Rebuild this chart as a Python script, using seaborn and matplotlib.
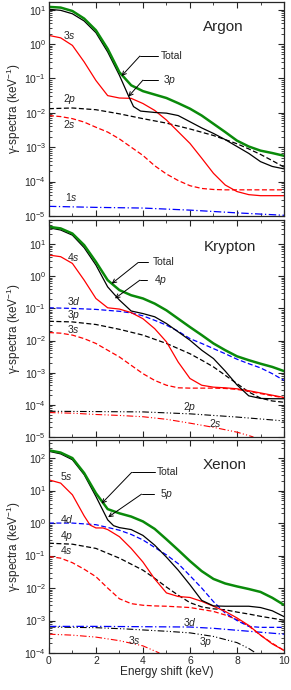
import numpy as np
import pandas as pd
import seaborn as sns
import matplotlib.pyplot as plt
from matplotlib import ticker

sns.set_style('ticks')
plt.rcParams['font.family'] = ['Liberation Sans', 'DejaVu Sans']
plt.rcParams['mathtext.fontset'] = 'custom'
plt.rcParams['mathtext.rm'] = 'Liberation Sans'
plt.rcParams['mathtext.it'] = 'Liberation Sans:italic'

# values, stored as log10 of gamma-spectra (keV^-1)
x_half = [0, 0.5, 1, 1.5, 2, 2.5, 3, 3.5, 4, 4.5, 5, 5.5, 6, 6.5, 7, 7.5, 8, 8.5, 9, 9.5, 10]

# ---- Argon
ar_total = [1.08, 1.06, 0.96, 0.74, 0.40, -0.14, -0.82, -1.20, -1.37, -1.47, -1.57,
            -1.72, -1.88, -2.08, -2.32, -2.56, -2.81, -2.98, -3.10, -3.17, -3.25]
ar_3p_x = [0, 0.5, 1, 1.5, 2, 2.5, 3, 3.4, 3.6, 3.9, 4.5, 5, 5.5, 6, 6.5, 7, 7.5, 8, 8.5, 9, 9.5, 10]
ar_3p = [1.01, 0.98, 0.88, 0.67, 0.33, -0.23, -0.91, -1.53, -1.82, -1.95, -1.99, -2.01,
         -2.08, -2.26, -2.44, -2.60, -2.78, -2.98, -3.18, -3.42, -3.56, -3.63]
ar_3s = [0.25, 0.18, -0.04, -0.52, -1.06, -1.50, -1.57, -1.58, -1.73, -1.93, -2.21,
         -2.55, -2.89, -3.32, -3.76, -4.10, -4.29, -4.38, -4.41, -4.41, -4.41]
ar_2p_x = [0, 1, 2, 3, 4, 5, 6, 7, 8, 8.5, 9, 9.5, 10]
ar_2p = [-1.88, -1.86, -1.91, -2.03, -2.17, -2.30, -2.47, -2.66, -2.90, -3.05, -3.21, -3.39, -3.58]
ar_2s = [-2.08, -2.11, -2.17, -2.27, -2.42, -2.56, -2.76, -3.00, -3.24, -3.54, -3.78,
         -3.97, -4.12, -4.20, -4.23, -4.24, -4.24, -4.24, -4.24, -4.24, -4.24]
ar_1s_x = [0, 2, 4, 6, 8, 10]
ar_1s = [-4.72, -4.75, -4.77, -4.83, -4.91, -4.98]

# ---- Krypton
kr_total = [1.54, 1.49, 1.33, 0.97, 0.45, -0.12, -0.43, -0.59, -0.69, -0.85, -1.06,
            -1.32, -1.58, -1.83, -2.09, -2.30, -2.49, -2.61, -2.72, -2.82, -2.95]
kr_4p = [1.51, 1.44, 1.28, 0.89, 0.35, -0.33, -0.74, -1.08, -1.16, -1.26, -1.47,
         -1.73, -1.99, -2.30, -2.56, -2.95, -3.38, -3.72, -3.80, -3.81, -3.81]
kr_4s = [0.66, 0.61, 0.40, -0.12, -0.69, -0.98, -1.02, -1.13, -1.32, -1.63, -2.04,
         -2.67, -3.18, -3.39, -3.45, -3.47, -3.50, -3.56, -3.63, -3.70, -3.77]
kr_3d_x = [0, 1, 2, 2.5, 3, 3.5, 4, 4.5, 5, 5.5, 6, 6.5, 7, 7.5, 8, 8.5, 9, 9.5, 10]
kr_3d = [-0.98, -1.00, -1.03, -1.06, -1.09, -1.14, -1.23, -1.37, -1.52, -1.71, -1.94,
         -2.09, -2.25, -2.41, -2.58, -2.72, -2.85, -3.03, -3.24]
kr_3p_x = [0, 1, 2, 3, 4, 5, 6, 6.5, 7, 7.5, 8, 8.5, 9, 9.5, 10]
kr_3p = [-1.40, -1.42, -1.50, -1.65, -1.83, -2.09, -2.41, -2.61, -2.82, -3.08, -3.34,
         -3.60, -3.79, -3.88, -3.92]
kr_3s = [-1.75, -1.77, -1.83, -1.94, -2.09, -2.30, -2.51, -2.77, -3.03, -3.24, -3.39,
         -3.47, -3.48, -3.48, -3.48, -3.49, -3.52, -3.58, -3.65, -3.72, -3.78]
kr_2p_x = [0, 2, 4, 6, 8, 10]
kr_2p = [-4.20, -4.21, -4.22, -4.28, -4.38, -4.50]
kr_2s_x = [0, 1, 2, 3, 4, 5, 6, 7, 8, 8.7]
kr_2s = [-4.24, -4.26, -4.30, -4.33, -4.37, -4.45, -4.57, -4.70, -4.85, -5.0]

# ---- Xenon
xe_total = [2.24, 2.17, 2.00, 1.54, 0.92, 0.43, 0.30, 0.20, 0.05, -0.18, -0.50,
            -0.83, -1.17, -1.48, -1.72, -1.86, -1.95, -2.03, -2.12, -2.30, -2.52]
xe_5p_x = [0, 0.5, 1, 1.5, 2, 2.5, 2.75, 3, 3.5, 4, 4.5, 5, 5.5, 6, 6.5, 7, 7.5, 8, 8.5, 9, 9.5, 10]
xe_5p = [2.21, 2.13, 1.95, 1.49, 0.82, 0.10, -0.08, -0.14, -0.20, -0.38, -0.68, -1.05,
         -1.45, -1.90, -2.38, -2.55, -2.56, -2.56, -2.56, -2.60, -2.70, -2.88]
xe_5s_x = [0, 0.5, 1, 1.5, 1.75, 2, 2.3, 2.5, 3, 3.5, 4, 4.5, 5, 5.5, 6, 6.5, 7, 7.5, 8, 8.5, 9, 9.5, 10]
xe_5s = [1.33, 1.23, 0.87, 0.22, -0.06, -0.15, -0.15, -0.20, -0.42, -0.78, -1.20, -1.72,
         -2.15, -2.26, -2.29, -2.41, -2.56, -2.72, -2.92, -3.15, -3.45, -3.72, -3.92]
xe_4d_x = [0, 1, 2, 3, 3.5, 4, 4.5, 5, 5.5, 6, 6.5, 7, 7.5, 8, 8.5, 9, 10]
xe_4d = [0.0, 0.0, -0.05, -0.22, -0.35, -0.52, -0.75, -0.98, -1.25, -1.62, -2.0,
         -2.42, -2.77, -3.00, -3.18, -3.21, -3.21]
xe_4p_x = [0, 1, 2, 3, 4, 4.5, 5, 5.5, 6, 6.5, 7, 7.5, 8, 8.5, 9, 9.5, 10]
xe_4p = [-0.62, -0.65, -0.78, -1.08, -1.45, -1.70, -1.97, -2.22, -2.45, -2.58, -2.64,
         -2.67, -2.74, -2.80, -2.87, -2.93, -2.99]
xe_4s = [-1.03, -1.08, -1.22, -1.42, -1.65, -2.00, -2.33, -2.48, -2.53, -2.55, -2.56,
         -2.58, -2.60, -2.66, -2.72, -2.83, -2.97, -3.17, -3.45, -3.70, -3.92]
xe_3d_x = [0, 2, 4, 6, 7, 8, 9, 10]
xe_3d = [-3.18, -3.18, -3.19, -3.20, -3.24, -3.30, -3.36, -3.42]
xe_3p_x = [0, 2, 3.3, 4, 5, 6, 7, 8, 8.5, 8.8]
xe_3p = [-3.20, -3.22, -3.26, -3.29, -3.33, -3.38, -3.49, -3.68, -3.86, -4.0]
xe_3s_x = [0, 1, 2, 3, 4, 4.7]
xe_3s = [-3.42, -3.45, -3.51, -3.62, -3.78, -4.0]

GREEN = '#0a8a0a'
DASH = (0, (4, 2))
DASHDOT = (0, (6, 2, 1, 2))
DASHDOTDOT = (0, (6, 2, 1, 2, 1, 2))

# (x, logy, colour, linestyle, width)
panels = [
    dict(name='Argon', ylim=(1e-5, 16.6), decades=(-5, 1),
         curves=[(ar_1s_x, ar_1s, 'blue', DASHDOT, 0.9),
                 (x_half, ar_2s, 'red', DASH, 0.9),
                 (ar_2p_x, ar_2p, 'black', DASH, 0.9),
                 (x_half, ar_3s, 'red', '-', 0.9),
                 (ar_3p_x, ar_3p, 'black', '-', 0.9),
                 (x_half, ar_total, GREEN, '-', 1.8)],
         labels=[('3', 's', 0.58, 0.26), ('2', 'p', 0.6, -1.61),
                 ('2', 's', 0.6, -2.33), ('1', 's', 0.68, -4.45)],
         arrows=[('Total', 4.75, -0.35, 4.62, 3.87, 3.09, -0.93),
                 ('3$p$', 4.85, -1.05, 4.62, 4.0, 3.38, -1.53)],
         name_pos=(0.74, 0.883)),
    dict(name='Krypton', ylim=(1e-5, 56), decades=(-5, 1),
         curves=[(kr_2s_x, kr_2s, 'red', DASHDOTDOT, 0.8),
                 (kr_2p_x, kr_2p, 'black', DASHDOTDOT, 0.8),
                 (x_half, kr_3s, 'red', DASH, 0.9),
                 (kr_3p_x, kr_3p, 'black', DASH, 0.9),
                 (kr_3d_x, kr_3d, 'blue', DASH, 0.9),
                 (x_half, kr_4s, 'red', '-', 0.9),
                 (x_half, kr_4p, 'black', '-', 0.9),
                 (x_half, kr_total, GREEN, '-', 1.8)],
         labels=[('4', 's', 0.75, 0.6), ('3', 'd', 0.75, -0.78), ('3', 'p', 0.75, -1.21),
                 ('3', 's', 0.75, -1.63), ('2', 'p', 5.7, -4.07), ('2', 's', 6.8, -4.58)],
         arrows=[('Total', 4.44, 0.43, 4.22, 3.8, 2.67, -0.23),
                 ('4$p$', 4.47, -0.12, 4.16, 3.87, 2.81, -0.69)],
         name_pos=(0.77, 0.877)),
    dict(name='Xenon', ylim=(1e-4, 355), decades=(-4, 2),
         curves=[(xe_3s_x, xe_3s, 'red', DASHDOTDOT, 0.8),
                 (xe_3p_x, xe_3p, 'black', DASHDOTDOT, 0.8),
                 (xe_3d_x, xe_3d, 'blue', DASHDOT, 0.9),
                 (x_half, xe_4s, 'red', DASH, 0.9),
                 (xe_4p_x, xe_4p, 'black', DASH, 0.9),
                 (xe_4d_x, xe_4d, 'blue', DASH, 0.9),
                 (xe_5s_x, xe_5s, 'red', '-', 0.9),
                 (xe_5p_x, xe_5p, 'black', '-', 0.9),
                 (x_half, xe_total, GREEN, '-', 1.8)],
         labels=[('5', 's', 0.47, 1.44), ('4', 'd', 0.47, 0.12), ('4', 'p', 0.47, -0.39),
                 ('4', 's', 0.47, -0.82), ('3', 'd', 5.7, -3.06), ('3', 'p', 6.4, -3.67),
                 ('3', 's', 3.37, -3.61)],
         arrows=[('Total', 4.6, 1.56, 4.5, 3.52, 2.24, 0.6),
                 ('5$p$', 4.72, 0.89, 4.45, 3.94, 2.52, 0.18)],
         name_pos=(0.749, 0.883)),
]

fig = plt.figure(figsize=(2.91, 6.9), dpi=100)
boxes = [(0.687, 0.997), (0.3667, 0.681), (0.0536, 0.362)]

for i, p in enumerate(panels):
    bot, top = boxes[i]
    ax = fig.add_axes([0.168, bot, 0.976 - 0.168, top - bot])
    for xs, ly, col, ls, lw in p['curves']:
        df = pd.DataFrame({'x': xs, 'y': 10 ** np.array(ly)})
        sns.lineplot(data=df, x='x', y='y', color=col, linestyle=ls, linewidth=lw, ax=ax)
    ax.set_yscale('log')
    ax.set_xlim(0, 10)
    ax.set_ylim(*p['ylim'])
    ax.xaxis.set_major_locator(ticker.MultipleLocator(2))
    ax.xaxis.set_minor_locator(ticker.MultipleLocator(1))
    # only the decades inside the panel, so no hidden labels spill over
    lo, hi = p['decades']
    dec = np.arange(lo, hi + 1)
    ax.yaxis.set_major_locator(ticker.FixedLocator(10.0 ** dec))
    minors = [m * 10.0 ** d for d in np.arange(lo, hi + 1) for m in range(2, 10)]
    minors = [m for m in minors if m < p['ylim'][1]]
    ax.yaxis.set_minor_locator(ticker.FixedLocator(minors))
    ax.yaxis.set_major_formatter(ticker.LogFormatterSciNotation())
    ax.yaxis.set_minor_formatter(ticker.NullFormatter())
    ax.tick_params(which='both', direction='in', top=True, right=True, labelsize=7.5, pad=2)
    ax.tick_params(which='major', length=4, width=0.8)
    ax.tick_params(which='minor', length=2, width=0.6)
    for s in ax.spines.values():
        s.set_linewidth(0.9)
    ax.set_ylabel('γ-spectra (keV$^{-1}$)', fontsize=8.5, labelpad=1)
    if i < 2:
        ax.set_xlabel('')
        ax.set_xticklabels([])
    else:
        ax.set_xlabel('Energy shift (keV)', fontsize=8.5, labelpad=0)

    ax.text(p['name_pos'][0], p['name_pos'][1], p['name'], transform=ax.transAxes,
            ha='center', va='center', fontsize=11)
    for num, orb, lx, ly in p['labels']:
        ax.text(lx, 10 ** ly, num + '$' + orb + '$', fontsize=7.5, ha='left', va='center')
    for txt, tx, ty, x0, x1, xa, ya in p['arrows']:
        ax.text(tx, 10 ** ty, txt, fontsize=7.5, ha='left', va='center')
        ax.plot([x0, x1], [10 ** ty, 10 ** ty], color='black', lw=0.7)
        ax.annotate('', xy=(xa, 10 ** ya), xytext=(x1, 10 ** ty),
                    arrowprops=dict(arrowstyle='->', color='black', lw=0.7,
                                    mutation_scale=7, shrinkA=0, shrinkB=0))

fig.savefig('out.png', dpi=100)
